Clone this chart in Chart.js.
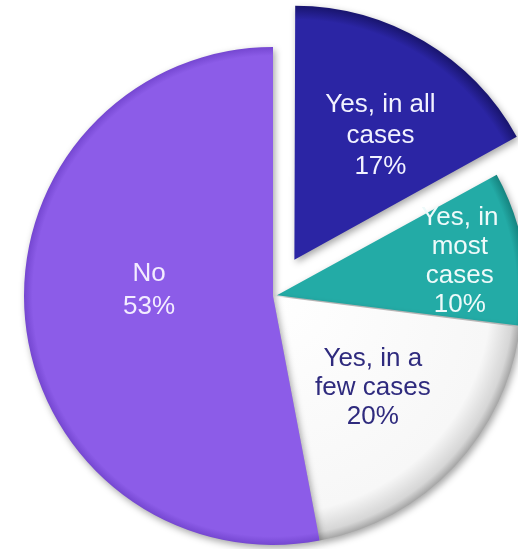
<!DOCTYPE html>
<html>
<head>
<meta charset="utf-8">
<script src="https://cdn.jsdelivr.net/npm/chart.js@4"></script>
<style>
  html, body { margin: 0; padding: 0; background: #ffffff; }
  #wrap { width: 518px; height: 549px; position: relative; }
</style>
</head>
<body>
<div id="wrap"><canvas id="myChart"></canvas></div>
<script>
// answers, clockwise from 12 o'clock
var categories = [
    ['Yes, in all', 'cases'],
    ['Yes, in', 'most', 'cases'],
    ['Yes, in a', 'few cases'],
    ['No']
];
var shares = [17, 10, 20, 53];

// slice colours: body colour and darker rim
var fillColors = ['#2b25a4', '#23aba6', '#f7f7f7', '#8c5ce8'];
var rimColors  = ['#1a1672', '#137a76', '#8e8e8e', '#6a3dc6'];
var labelColors = ['#f2f2ff', '#eefafa', '#2f2b7e', '#f3ecff'];
var explode = [168, 16, 0, 0];      // Chart.js moves a slice by offset/4
var labelRadius = [0.6, 0.76, 0.55, 0.5];
var labelNudge = [[10, 5], [-3, 2], [0, -2], [0, -17]];
var labelLine = [31, 29, 29, 33];

var PIE_R = 249;

function sliceFill(context) {
    var i = context.dataIndex;
    var area = context.chart.chartArea;
    if (!area) return fillColors[i];
    var cx = (area.left + area.right) / 2;
    var cy = (area.top + area.bottom) / 2;
    var g = context.chart.ctx.createRadialGradient(cx, cy, 0, cx, cy, PIE_R + 4);
    g.addColorStop(0, i === 2 ? '#ffffff' : fillColors[i]);
    g.addColorStop(0.86, fillColors[i]);
    g.addColorStop(0.95, i === 2 ? '#d6d6d6' : fillColors[i]);
    g.addColorStop(1, rimColors[i]);
    return g;
}

// soft drop shadow under the slices, then the text inside each slice
var sliceDecor = {
    id: 'sliceDecor',
    beforeDatasetsDraw: function(chart) {
        var ctx = chart.ctx;
        ctx.save();
        ctx.shadowColor = 'rgba(0, 0, 0, 0.35)';
        ctx.shadowBlur = 7;
        ctx.shadowOffsetX = 2;
        ctx.shadowOffsetY = 3;
    },
    afterDatasetsDraw: function(chart) {
        var ctx = chart.ctx;
        ctx.restore();
        var meta = chart.getDatasetMeta(0);
        ctx.save();
        ctx.font = '26px "Liberation Sans", Arial, sans-serif';
        ctx.textAlign = 'center';
        ctx.textBaseline = 'middle';
        meta.data.forEach(function(arc, i) {
            var p = arc.getProps(['x', 'y', 'startAngle', 'endAngle', 'outerRadius']);
            var mid = (p.startAngle + p.endAngle) / 2;
            var d = explode[i] / 4 + labelRadius[i] * p.outerRadius;
            var x = p.x + Math.cos(mid) * d + labelNudge[i][0];
            var y = p.y + Math.sin(mid) * d + labelNudge[i][1];
            var lines = categories[i].concat([shares[i] + '%']);
            var lh = labelLine[i];
            ctx.fillStyle = labelColors[i];
            lines.forEach(function(t, k) {
                ctx.fillText(t, x, y + (k - (lines.length - 1) / 2) * lh);
            });
        });
        ctx.restore();
    }
};

var ctx = document.getElementById('myChart').getContext('2d');
var myChart = new Chart(ctx, {
    type: 'pie',
    data: {
        labels: categories.map(function(c) { return c.join(' '); }),
        datasets: [{
            data: shares,
            backgroundColor: sliceFill,
            borderWidth: 0,
            offset: explode
        }]
    },
    options: {
        responsive: true,
        maintainAspectRatio: false,
        animation: false,
        radius: PIE_R,
        layout: {
            padding: { left: 28, right: 0, top: 43, bottom: 0 }
        },
        plugins: {
            legend: { display: false },
            tooltip: { enabled: false }
        }
    },
    plugins: [sliceDecor]
});
</script>
</body>
</html>
